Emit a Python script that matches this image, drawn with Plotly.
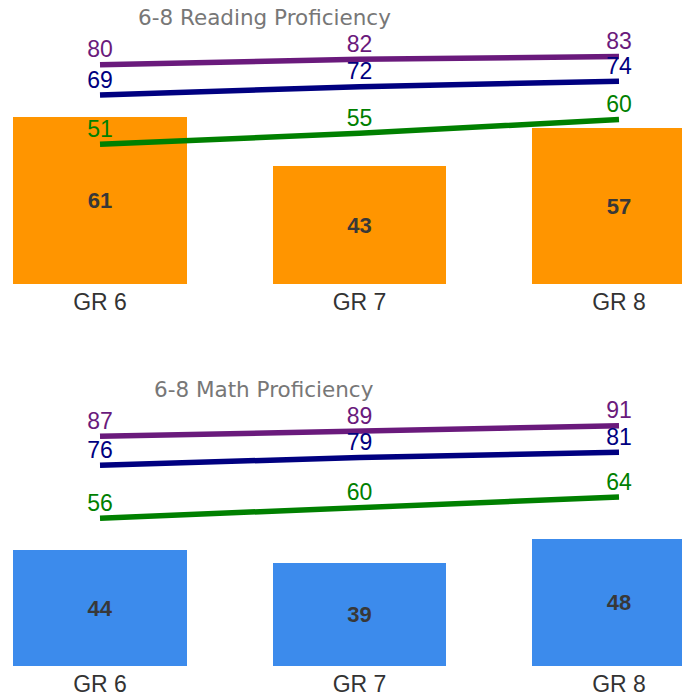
import plotly.graph_objects as go

grades = ["GR 6", "GR 7", "GR 8"]

reading_bars = [61, 43, 57]
reading_purple = [80, 82, 83]
reading_navy = [69, 72, 74]
reading_green = [51, 55, 60]

math_bars = [44, 39, 48]
math_purple = [87, 89, 91]
math_navy = [76, 79, 81]
math_green = [56, 60, 64]

titles = ["6-8 Reading Proficiency", "6-8 Math Proficiency"]

PURPLE = "#6a1a7c"
NAVY = "#000080"
GREEN = "#008000"
ORANGE = "#ff9500"
BLUE = "#3c8bec"

fig = go.Figure()

def add_panel(bars, purple, navy, green, bar_color, xa, ya):
    fig.add_trace(go.Bar(
        x=grades, y=bars, width=0.67, marker=dict(color=bar_color, line=dict(width=0)),
        text=[str(v) for v in bars], textposition="inside", insidetextanchor="middle",
        textfont=dict(family="Liberation Sans, Arial", size=22, color="#383838", weight="bold"),
        xaxis=xa, yaxis=ya, showlegend=False, hoverinfo="skip"))
    for vals, col in [(purple, PURPLE), (navy, NAVY), (green, GREEN)]:
        fig.add_trace(go.Scatter(
            x=grades, y=vals, mode="lines+markers+text", line=dict(color=col, width=5.5),
            marker=dict(size=1, opacity=0, color=col),
            text=[str(v) for v in vals], textposition="top center",
            textfont=dict(family="Liberation Sans, Arial", size=23, color=col),
            xaxis=xa, yaxis=ya, showlegend=False, cliponaxis=False, hoverinfo="skip"))

add_panel(reading_bars, reading_purple, reading_navy, reading_green, ORANGE, "x", "y")
add_panel(math_bars, math_purple, math_navy, math_green, BLUE, "x2", "y2")

W = 690.0
H = 694.0
OFF = 8.0  # page body margin
step = 259.5
p0 = 100 - OFF
xr = [-p0 / step, (W - p0) / step]
axis_x = dict(range=xr, showgrid=False, zeroline=False, showline=False, ticks="",
              tickfont=dict(family="Liberation Sans, Arial", size=23, color="#333333"),
              ticklabelstandoff=2, fixedrange=True)
axis_y = dict(range=[0, 100], visible=False, showgrid=False, zeroline=False)

def dom(bottom_ref, top_ref):
    return [(H - (bottom_ref - OFF)) / H, (H - (top_ref - OFF)) / H]

fig.update_layout(
    width=690, height=694,
    margin=dict(l=0, r=0, t=0, b=0),
    plot_bgcolor="white", paper_bgcolor="white",
    xaxis=dict(axis_x, domain=[0, 1], anchor="y"),
    yaxis=dict(axis_y, domain=dom(284, 10), anchor="x"),
    xaxis2=dict(axis_x, domain=[0, 1], anchor="y2"),
    yaxis2=dict(axis_y, domain=dom(666, 402), anchor="x2"),
    bargap=0,
)

for t, ypix in zip(titles, [17, 389]):
    fig.add_annotation(text=t, xref="paper", yref="paper", x=(264 - OFF) / W, y=(H - (ypix - OFF)) / H,
                       xanchor="center", yanchor="middle", showarrow=False,
                       font=dict(family="DejaVu Sans", size=21.5, color="#777777"))

fig.write_html("out.html")
